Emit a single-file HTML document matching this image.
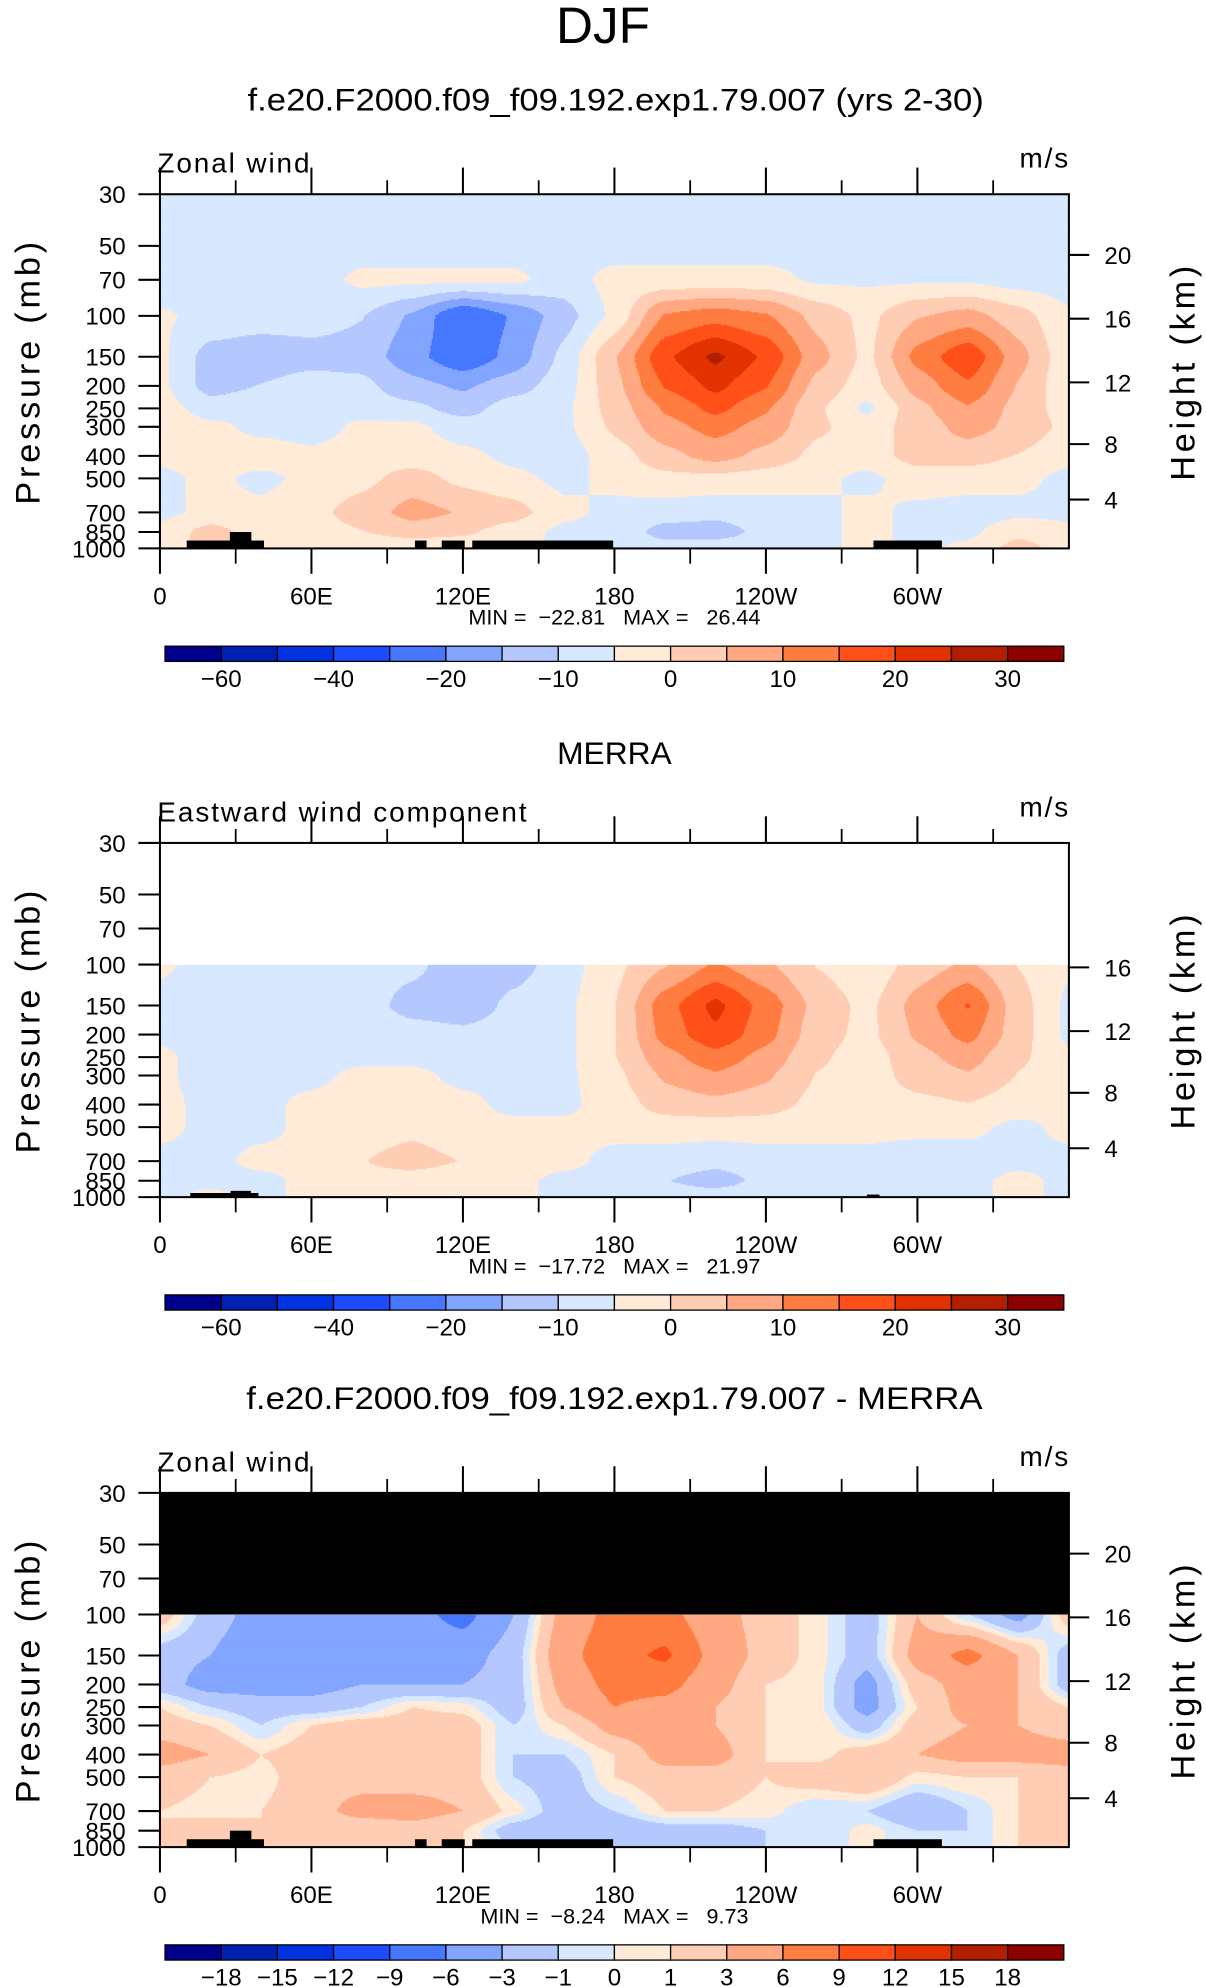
<!DOCTYPE html>
<html><head><meta charset="utf-8"><style>
html,body{margin:0;padding:0;background:#fff;}
svg{display:block;}
text{font-family:"Liberation Sans Narrow","Liberation Sans",sans-serif;fill:#000;}
</style></head><body>
<svg id="root" xmlns="http://www.w3.org/2000/svg" width="1206" height="1987" viewBox="0 0 950 1565.2" preserveAspectRatio="none">
<text x="475" y="34" text-anchor="middle" font-size="40" style="font-family:'Liberation Sans',sans-serif" textLength="74" lengthAdjust="spacingAndGlyphs">DJF</text>
<text x="485" y="87" text-anchor="middle" font-size="25" style="font-family:'Liberation Sans',sans-serif" textLength="580" lengthAdjust="spacingAndGlyphs">f.e20.F2000.f09_f09.192.exp1.79.007 (yrs 2-30)</text>
<text x="484" y="602" text-anchor="middle" font-size="25" style="font-family:'Liberation Sans',sans-serif">MERRA</text>
<text x="484" y="1110" text-anchor="middle" font-size="25" style="font-family:'Liberation Sans',sans-serif" textLength="580" lengthAdjust="spacingAndGlyphs">f.e20.F2000.f09_f09.192.exp1.79.007 - MERRA</text>
</svg>
<script>
// ---- data ----
const lons = [0,20,40,60,80,100,120,140,160,180,200,220,240,260,280,300,320,340];
const plevs = [30,50,70,100,150,200,250,300,400,500,700,850,1000];
const model = [
[-7.4,-7.4,-7.4,-7.4,-7.4,-7.4,-7.4,-7.4,-7.4,-7.4,-7.4,-7.4,-7.4,-7.4,-7.4,-7.4,-7.4,-7.4],
[-7.4,-7.4,-7.4,-7.4,-7.4,-7.4,-7.4,-7.4,-7.4,-7.4,-7.4,-7.4,-7.4,-7.4,-7.4,-7.4,-7.4,-7.4],
[-7.4,-7.4,-7.4,-7.4,-3.8,-3.8,-3.8,-3.8,-7.4,-3.2,-3.2,-3.2,-3.2,-5.8,-5.8,-5.8,-5.8,-7.4],
[-4.4,-6.2,-7.4,-7.4,-9.8,-15.8,-25.4,-19.4,-12.2,-3.8,10.6,13,10.6,3.4,-1.4,4.6,7,2.2],
[-3.8,-12.2,-13.4,-12.2,-12.2,-18.2,-24.2,-18.2,-8.6,4.6,19,26.2,19,7,-1.4,11.8,19,7],
[-3.8,-12.2,-9.8,-7.4,-8.6,-13.4,-15.8,-12.2,-7.4,3.4,15.4,21.4,15.4,3.4,-2.6,7,14.2,4.6],
[-2.6,-7.4,-6.2,-7.4,-7.4,-8.6,-12.2,-7.4,-6.2,2.2,10.6,16.6,10.6,1,-6.2,3.4,9.4,3.4],
[-1.4,-3.8,-6.2,-7.4,-3.8,-3.8,-7.4,-7.4,-6.2,1,8.2,11.8,8.2,1,-2.6,2.2,7,3.4],
[-3.8,-3.8,-2.6,-3.8,-2.6,-2.6,-3.8,-6.2,-7.4,-2.6,3.4,7,3.4,-1.4,-2.6,2.2,2.2,-0.2],
[-6.2,-3.8,-6.2,-3.8,-1.4,2.2,-1.4,-3.8,-6.2,-3.8,-1.4,-1.4,-2.6,-3.8,-6.2,-2.6,-2.6,-3.8],
[-6.2,-3.8,-3.8,-1.4,2.2,7,4.6,2.2,-3.8,-6.2,-7.4,-8.6,-7.4,-6.2,-3.8,-6.2,-7.4,-6.2],
[-3.8,2.2,-2.6,-2.6,-0.2,2.2,1,-2.6,-6.2,-6.2,-12.2,-12.2,-8.6,-6.2,-3.8,-6.2,-6.2,-1.4],
[-2.6,2.2,-2.6,-3.8,-3.8,-3.8,-3.8,-3.8,-6.2,-6.2,-7.4,-7.4,-6.2,-6.2,-3.8,-6.2,-3.8,2.2]
];
const merra = [
null,null,null,
[-4.4,-6.2,-6.2,-6.2,-7.4,-8.6,-13.4,-12.2,-7.4,-1.4,4.6,10.6,5.8,-0.2,-3.8,2.2,5.8,-0.2],
[-6.2,-7.4,-7.4,-7.4,-7.4,-12.2,-13.4,-8.6,-6.2,-0.2,13,21.4,13,3.4,-1.4,7,15.4,2.2],
[-6.2,-7.4,-7.4,-6.2,-6.2,-7.4,-8.6,-7.4,-6.2,-0.2,11.8,19,11.8,2.2,-1.4,5.8,11.8,2.2],
[-3.8,-7.4,-7.4,-6.2,-6.2,-6.2,-7.4,-6.2,-6.2,-0.2,8.2,13,8.2,1,-2.6,3.4,7,1],
[-3.8,-7.4,-6.2,-6.2,-3.8,-3.8,-6.2,-6.2,-6.2,-1.4,5.8,9.4,5.8,-0.2,-2.6,2.2,4.6,-0.2],
[-3.8,-6.2,-6.2,-3.8,-2.6,-2.6,-3.8,-6.2,-6.2,-2.6,2.2,3.4,2.2,-1.4,-2.6,-1.4,-0.2,-2.6],
[-3.8,-6.2,-6.2,-3.8,-2.6,-1.4,-3.8,-3.8,-3.8,-3.8,-2.6,-2.6,-2.6,-3.8,-3.8,-3.8,-3.8,-6.2],
[-6.2,-6.2,-3.8,-3.8,-0.2,2.2,-0.2,-2.6,-3.8,-6.2,-7.4,-8.6,-7.4,-6.2,-6.2,-7.4,-7.4,-6.2],
[-6.2,-6.2,-6.2,-3.8,-1.4,-2.6,-3.8,-3.8,-6.2,-6.2,-9.8,-12.2,-8.6,-6.2,-6.2,-6.2,-6.2,-3.8],
[-6.2,-3.8,-6.2,-3.8,-3.8,-3.8,-3.8,-3.8,-6.2,-6.2,-7.4,-7.4,-6.2,-6.2,-6.2,-6.2,-6.2,-3.8]
];
const diff = [
null,null,null,
[2,-2,-4,-4,-4,-5,-7,-3,4,7,7,4,2,0.5,-2,3,-1,-4],
[-2,-3,-5,-4,-4,-4,-4,-2,5,8,9.5,5,2,0.5,-2,4,7,3],
[-2,-4,-4,-4,-3,-3,-3,-2,4,7,7,4,1,0.5,-4,2,4,3],
[1,-1,-2,-2,-1,1,0.5,-2,3,6,5,3,1,0.5,-4,1,4,3],
[2,1,-1,1,2,2,2,-1,1,4,5,3,1,1,-2,2,3,3],
[4,3,1,2,2,2,2,-1,-1,1,4,4,1,0.5,2,3,4,4],
[2,1,0.5,2,2,2,2,-1,-2,1,2,2,1,2,3,0.5,1,1],
[1,0.5,1,2,4,4,3,0.5,-2,-1,1,1,0.5,-1,-1,-3,-1,1],
[1,2,1,1,1,2,1,-2,-3,-3,-2,-2,-1,-1,0.5,-1,-1,1],
[1,1,1,1,1,1,1,-1,-2,-2,-1,-1,-1,-1,0.5,-1,-1,1]
];
const windLevels = [-60,-50,-40,-30,-20,-15,-10,-5,0,5,10,15,20,25,30];
const windLabels = ["−60","","−40","","−20","","−10","","0","","10","","20","","30"];
const diffLevels = [-18,-15,-12,-9,-6,-3,-1,0,1,3,6,9,12,15,18];
const diffLabels = ["−18","−15","−12","−9","−6","−3","−1","0","1","3","6","9","12","15","18"];
const colors = ["#00008c","#0020b4","#0032e0","#1e4bff","#4678ff","#82a5ff","#b4c8ff","#d7e8ff","#ffebd7","#ffcdb4","#ffa882","#ff7d41","#ff5019","#e13200","#b41e00","#8c0000"];
const lonTicksMajor = [0,60,120,180,240,300];
const lonTickLabels = ["0","60E","120E","180","120W","60W"];
const lonTicksMinor = [30,90,150,210,270,330];
const topoModel = [[10.6,41.2,925],[27.7,36.2,850],[101,105.6,925],[111.6,120.7,925],[123.7,179.5,925],[282.6,309.7,925]];
const topoMerra = [[12,39,960],[28,36,940],[280,285,975]];
const panels = [
 {top:153, field:model, levels:windLevels, labels:windLabels, title:"Zonal wind", minmax:["−22.81","26.44"], topo:topoModel, heights:[4,8,12,16,20], mask:null, name:"model"},
 {top:664, field:merra, levels:windLevels, labels:windLabels, title:"Eastward wind component", minmax:["−17.72","21.97"], topo:topoMerra, heights:[4,8,12,16], mask:"none", name:"merra"},
 {top:1176, field:diff, levels:diffLevels, labels:diffLabels, title:"Zonal wind", minmax:["−8.24","9.73"], topo:topoModel, heights:[4,8,12,16,20], mask:"#000", name:"diff"}
];
// ---- drawing ----
const NS="http://www.w3.org/2000/svg";
const root=document.getElementById('root');
const L=126, W=716, H=279, LN=Math.log(1000/30);
function mk(tag, attrs, parent){const e=document.createElementNS(NS,tag);for(const k in attrs)e.setAttribute(k,attrs[k]);(parent||root).appendChild(e);return e;}
function xOf(lon){return L+lon/360*W;}
function yOf(top,p){return top+H*(1-Math.log(1000/p)/LN);}
function zToP(z){return z<=11?1013.25*Math.pow(1-z/44.33,5.255):226.3*Math.exp(-(z-11)/6.34);}
function cls(v,lev){let i=0;while(i<lev.length&&v>=lev[i])i++;return i;}
function sm(f){return f*f*(3-2*f)*0.35+f*0.65;}
function sample(field,lon,p){
  const u=Math.log(1000/p);
  let k=plevs.length-1;
  while(k>0&&Math.log(1000/plevs[k-1])<=u)k--;
  let k1=Math.max(k-1,0);
  const uk=Math.log(1000/plevs[k]),uk1=Math.log(1000/plevs[k1]);
  const t=k1===k?0:sm((u-uk)/(uk1-uk));
  const r0=field[k],r1=field[k1];
  if(!r0||!r1)return null;
  const li=lon/20, i0=Math.floor(li)%18, i1=(i0+1)%18, f=sm(li-Math.floor(li));
  const a=r0[i0]*(1-f)+r0[i1]*f, b=r1[i0]*(1-f)+r1[i1]*f;
  return a*(1-t)+b*t;
}
panels.forEach((P,pi)=>{
  const g=mk('g',{});
  
  
  const fg=mk('g',{},g);
  
  
  const rows=279, cols=716;
  for(let j=0;j<rows;j++){
    const yTop=P.top+j, p=1000*Math.exp(-(H-j-0.5)/H*LN);
    let start=0, cur=-2;
    for(let c=0;c<=cols;c++){
      let k=-2;
      if(c<cols){const v=sample(P.field,(c+0.5)/W*360,p);k=v===null?-1:cls(v,P.levels);}
      if(k!==cur){
        if(cur>=0){mk('rect',{x:L+start,y:yTop,width:c-start+0.4,height:1.4,fill:colors[cur]},fg);}
        cur=k;start=c;
      }
    }
  }
  if(P.mask==="#000"){const m=mk('rect',{x:L,y:P.top,width:W,height:yOf(P.top,100)-P.top,fill:'#000'},g);}
  P.topo.forEach(t=>{const r=mk('rect',{x:xOf(t[0]),y:yOf(P.top,t[2]),width:xOf(t[1])-xOf(t[0]),height:P.top+H-yOf(P.top,t[2]),fill:'#000'},g);
    });
  const fr=mk('rect',{x:L,y:P.top,width:W,height:H,fill:'none',stroke:'#000','stroke-width':1.6},g);
  
  lonTicksMajor.forEach((lon,i)=>{
    mk('line',{x1:xOf(lon),x2:xOf(lon),y1:P.top,y2:P.top-21,stroke:'#000','stroke-width':1.6},g);
    mk('line',{x1:xOf(lon),x2:xOf(lon),y1:P.top+H,y2:P.top+H+20,stroke:'#000','stroke-width':1.6},g);
    const t=mk('text',{x:xOf(lon),y:P.top+H+44,'text-anchor':'middle','font-size':19},g);t.textContent=lonTickLabels[i];
    
  });
  lonTicksMinor.forEach(lon=>{
    mk('line',{x1:xOf(lon),x2:xOf(lon),y1:P.top,y2:P.top-11,stroke:'#000','stroke-width':1.4},g);
    mk('line',{x1:xOf(lon),x2:xOf(lon),y1:P.top+H,y2:P.top+H+12,stroke:'#000','stroke-width':1.4},g);
  });
  plevs.forEach(p=>{
    const y=yOf(P.top,p);
    mk('line',{x1:L-17,x2:L,y1:y,y2:y,stroke:'#000','stroke-width':1.6},g);
    const t=mk('text',{x:L-27,y:y+7,'text-anchor':'end','font-size':19},g);t.textContent=p;
    
  });
  P.heights.forEach(z=>{
    const y=yOf(P.top,zToP(z));
    mk('line',{x1:L+W,x2:L+W+16,y1:y,y2:y,stroke:'#000','stroke-width':1.6},g);
    const t=mk('text',{x:L+W+28,y:y+7,'font-size':19},g);t.textContent=z;
    
  });
  const ya=mk('text',{transform:`translate(31,${P.top+H/2}) rotate(-90)`,'text-anchor':'middle','font-size':27,'letter-spacing':'3',style:"font-family:'Liberation Sans',sans-serif"},g);
  ya.textContent='Pressure (mb)';
  const yb=mk('text',{transform:`translate(941,${P.top+H/2}) rotate(-90)`,'text-anchor':'middle','font-size':27,'letter-spacing':'3',style:"font-family:'Liberation Sans',sans-serif"},g);
  yb.textContent='Height (km)';
  const vt=mk('text',{x:124,y:P.top-17,'font-size':22,'letter-spacing':'1.5'},g);vt.textContent=P.title;
  
  const un=mk('text',{x:843,y:P.top-21,'text-anchor':'end','font-size':22,'letter-spacing':'1.5'},g);un.textContent='m/s';
  
  const mm=mk('text',{x:484,y:P.top+H+60,'text-anchor':'middle','font-size':17,style:'white-space:pre'},g);
  mm.textContent='MIN =  '+P.minmax[0]+'   MAX =   '+P.minmax[1];
  
  const cb=mk('g',{},g);
  const cy=P.top+356, bw=708/16;
  colors.forEach((c,i)=>{const r=mk('rect',{x:130+i*bw,y:cy,width:bw,height:12,fill:c,stroke:'#000','stroke-width':1},cb);
    });
  P.labels.forEach((lb,i)=>{if(!lb)return;const t=mk('text',{x:130+(i+1)*bw,y:cy+32,'text-anchor':'middle','font-size':19},cb);t.textContent=lb;
    });
});
</script>
</body></html>
